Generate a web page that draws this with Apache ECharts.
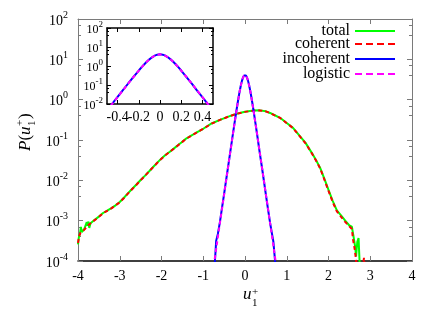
<!DOCTYPE html>
<html><head><meta charset="utf-8">
<script src="https://cdn.jsdelivr.net/npm/echarts@6/dist/echarts.min.js"></script>
<style>html,body{margin:0;padding:0;background:#fff}#c{width:436px;height:309px}</style>
</head><body><div id="c"></div><script>
// ---- data ----
const totalU = [-4.00,-3.98,-3.95,-3.93,-3.91,-3.88,-3.85,-3.82,-3.79,-3.77,-3.75,-3.73,-3.70,-3.66,-3.60,-3.50,-3.40,-3.30,-3.20,-3.10,-3.00,-2.90,-2.80,-2.70,-2.60,-2.50,-2.40,-2.30,-2.20,-2.10,-2.00,-1.90,-1.80,-1.70,-1.60,-1.50,-1.40,-1.30,-1.20,-1.10,-1.00,-0.80,-0.60,-0.40,-0.20,0.00,0.20,0.35,0.50,0.60,0.70,0.84,1.00,1.15,1.30,1.45,1.60,1.70,1.80,1.90,2.00,2.10,2.20,2.30,2.40,2.50,2.56,2.60,2.64,2.66,2.69,2.72,2.74,2.76];
const totalP = [2.6e-4,3.8e-4,5.0e-4,7.0e-4,5.2e-4,5.6e-4,6.2e-4,5.8e-4,9.2e-4,7.5e-4,9.5e-4,6.6e-4,8.6e-4,9.5e-4,1.05e-3,1.26e-3,1.55e-3,1.78e-3,2.04e-3,2.4e-3,2.9e-3,3.7e-3,4.8e-3,6.2e-3,7.9e-3,1.02e-2,1.29e-2,1.66e-2,2.14e-2,2.75e-2,3.5e-2,4.3e-2,5.1e-2,6.2e-2,7.5e-2,9.1e-2,0.11,0.126,0.145,0.166,0.19,0.257,0.316,0.38,0.447,0.50,0.537,0.543,0.513,0.468,0.417,0.355,0.263,0.20,0.13,0.085,0.048,0.032,0.0204,0.011,5.8e-3,3.1e-3,1.8e-3,1.35e-3,1.0e-3,7.6e-4,7.1e-4,4.0e-4,2.2e-4,1.3e-4,3.0e-4,3.7e-4,1.2e-4,5e-5];

const coherentU = [-4.00,-3.97,-3.94,-3.90,-3.86,-3.82,-3.78,-3.74,-3.70,-3.66,-3.60,-3.50,-3.40,-3.30,-3.20,-3.10,-3.00,-2.90,-2.80,-2.70,-2.60,-2.50,-2.40,-2.30,-2.20,-2.10,-2.00,-1.90,-1.80,-1.70,-1.60,-1.50,-1.40,-1.30,-1.20,-1.10,-1.00,-0.80,-0.60,-0.40,-0.20,0.00,0.20,0.35,0.50,0.60,0.70,0.84,1.00,1.15,1.30,1.45,1.60,1.70,1.80,1.90,2.00,2.10,2.20,2.30,2.40,2.50,2.56,2.59,2.63,2.66,2.68,2.80,2.85,2.88];
const coherentP = [2.8e-4,4.2e-4,5.0e-4,4.8e-4,5.8e-4,6.2e-4,7.2e-4,7.0e-4,8.6e-4,9.6e-4,1.03e-3,1.24e-3,1.53e-3,1.76e-3,2.02e-3,2.4e-3,2.85e-3,3.65e-3,4.75e-3,6.1e-3,7.8e-3,1.0e-2,1.28e-2,1.65e-2,2.12e-2,2.72e-2,3.45e-2,4.25e-2,5.1e-2,6.15e-2,7.45e-2,9.0e-2,0.109,0.125,0.144,0.165,0.189,0.255,0.315,0.378,0.445,0.498,0.535,0.541,0.511,0.466,0.415,0.353,0.261,0.198,0.128,0.083,0.047,0.031,0.0198,0.0105,5.5e-3,2.9e-3,1.7e-3,1.25e-3,9.3e-4,7.2e-4,6.2e-4,3.3e-4,1.9e-4,1.05e-4,6e-5,5e-5,1.2e-4,5e-5];

const incoherentU = [-0.75,-0.72,-0.69,-0.65,-0.60,-0.55,-0.50,-0.45,-0.40,-0.35,-0.30,-0.25,-0.20,-0.175,-0.15,-0.125,-0.10,-0.075,-0.05,-0.025,0.00,0.025,0.05,0.075,0.10,0.125,0.15,0.175,0.20,0.25,0.30,0.35,0.40,0.45,0.50,0.55,0.60,0.65,0.68,0.72,0.75];
const incoherentP = [3e-5,1.0e-4,3.2e-4,4.7e-4,9.3e-4,2.1e-3,4.6e-3,1.05e-2,2.35e-2,5.3e-2,0.12,0.266,0.578,0.84,1.2,1.67,2.24,2.88,3.5,3.96,4.12,3.96,3.5,2.88,2.24,1.67,1.2,0.84,0.578,0.262,0.117,5.1e-2,2.3e-2,1.02e-2,4.4e-3,1.95e-3,8.9e-4,4.5e-4,3.0e-4,1.0e-4,3e-5];

const logisticU = [-0.75,-0.70,-0.65,-0.60,-0.55,-0.50,-0.45,-0.40,-0.35,-0.30,-0.25,-0.20,-0.175,-0.15,-0.125,-0.10,-0.075,-0.05,-0.025,0.00,0.025,0.05,0.075,0.10,0.125,0.15,0.175,0.20,0.25,0.30,0.35,0.40,0.45,0.50,0.55,0.60,0.65,0.70,0.75];
const logisticP = [7.5e-5,1.7e-4,3.9e-4,8.8e-4,2.0e-3,4.5e-3,1.03e-2,2.32e-2,5.2e-2,0.118,0.264,0.574,0.834,1.19,1.66,2.23,2.87,3.48,3.94,4.10,3.94,3.48,2.87,2.23,1.66,1.19,0.834,0.574,0.264,0.118,5.2e-2,2.32e-2,1.03e-2,4.5e-3,2.0e-3,8.8e-4,3.9e-4,1.7e-4,7.5e-5];

const seriesNames = ['total','coherent','incoherent','logistic'];
const mainXTicks = {min:-4, max:4, interval:1};
const mainYRange = {min:1e-4, max:1e2};
const insetXRange = {min:-0.5, max:0.5};
const insetYRange = {min:1e-2, max:1e2};

// ---- chart ----
const FONT = '"Liberation Serif","Times New Roman",serif';
const pairs = (u,p) => u.map((x,i) => [x, p[i]]);
const expLabel = v => '{b|10}{s|' + Math.round(Math.log10(v)) + '}';
const GRAY = '#7a7a7a';

function xAx(grid, pos, range, opts) {
  return Object.assign({
    type:'value', gridIndex:grid, position:pos, min:range.min, max:range.max,
    splitLine:{show:false},
    axisLine:{show:true, onZero:false, lineStyle:{color:GRAY, width:1}},
    axisTick:{show:true, inside:true, length:5, lineStyle:{color:GRAY}},
    axisLabel:{show:false}
  }, opts || {});
}
function yAx(grid, pos, range, opts) {
  return Object.assign({
    type:'log', logBase:10, gridIndex:grid, position:pos, min:range.min, max:range.max, interval:1,
    splitLine:{show:false},
    axisLine:{show:true, onZero:false, lineStyle:{color:GRAY, width:1}},
    axisTick:{show:true, inside:true, length:5, lineStyle:{color:GRAY}},
    minorTick:{show:true, splitNumber:3, length:3, lineStyle:{color:GRAY}},
    axisLabel:{show:false}
  }, opts || {});
}
function leg(name, top, dash) {
  const l = {
    data:[name], right:40, top:top, orient:'vertical', itemWidth:40, itemHeight:10,
    padding:0, selectedMode:false, align:'right',
    itemStyle:{opacity:0, borderWidth:0},
    textStyle:{fontFamily:FONT, fontSize:16, color:'#000'}
  };
  if (dash) l.lineStyle = {type:dash};
  return l;
}
function line(name, u, p, color, dash, xi, yi) {
  return {
    type:'line', name:name, data:pairs(u,p), xAxisIndex:xi, yAxisIndex:yi,
    symbol:'none', showSymbol:false, animation:false,
    lineStyle:{color:color, width:2, type:dash || 'solid'},
    itemStyle:{color:color}
  };
}

const chart = echarts.init(document.getElementById('c'));
chart.setOption({
  animation:false,
  backgroundColor:'#fff',
  grid:[
    {left:78, right:24, top:19, bottom:48},
    {left:107, right:223, top:28, bottom:205, show:true, backgroundColor:'#fff', borderWidth:0}
  ],
  xAxis:[
    xAx(0,'bottom',mainXTicks,{interval:mainXTicks.interval,
      axisLine:{show:true,onZero:false,lineStyle:{color:'#000',width:1.5}},
      axisLabel:{show:true, margin:8, fontFamily:FONT, fontSize:14, color:'#000'}}),
    xAx(0,'top',mainXTicks,{interval:mainXTicks.interval}),
    xAx(1,'bottom',insetXRange,{splitNumber:5,
      axisLine:{show:true,onZero:false,lineStyle:{color:'#000',width:1.5}},
      axisTick:{show:true,inside:true,length:4,lineStyle:{color:'#000'}},
      axisLabel:{show:true, margin:6, fontFamily:FONT, fontSize:14, color:'#000', showMinLabel:false, showMaxLabel:false}}),
    xAx(1,'top',insetXRange,{splitNumber:5,
      axisLine:{show:true,onZero:false,lineStyle:{color:'#000',width:1.5}},
      axisTick:{show:true,inside:true,length:4,lineStyle:{color:'#000'}}})
  ],
  yAxis:[
    yAx(0,'left',mainYRange,{
      axisLabel:{show:true, margin:10, formatter:expLabel, rich:{
        b:{fontFamily:FONT, fontSize:14, color:'#000', lineHeight:18, verticalAlign:'bottom'},
        s:{fontFamily:FONT, fontSize:10, color:'#000', lineHeight:8, verticalAlign:'top'}}}}),
    yAx(0,'right',mainYRange),
    yAx(1,'left',insetYRange,{
      axisLine:{show:true,onZero:false,lineStyle:{color:'#000',width:1.5}},
      axisTick:{show:true,inside:true,length:4,lineStyle:{color:'#000'}},
      minorTick:{show:true,splitNumber:3,length:2,lineStyle:{color:'#000'}},
      axisLabel:{show:true, margin:4, formatter:expLabel, rich:{
        b:{fontFamily:FONT, fontSize:12, color:'#000', lineHeight:15, verticalAlign:'bottom'},
        s:{fontFamily:FONT, fontSize:9, color:'#000', lineHeight:7, verticalAlign:'top'}}}}),
    yAx(1,'right',insetYRange,{
      axisLine:{show:true,onZero:false,lineStyle:{color:'#000',width:1.5}},
      axisTick:{show:true,inside:true,length:4,lineStyle:{color:'#000'}},
      minorTick:{show:true,splitNumber:3,length:2,lineStyle:{color:'#000'}}})
  ],
  legend:[
    leg(seriesNames[0], 23),
    leg(seriesNames[1], 36, [7,4]),
    leg(seriesNames[2], 51),
    leg(seriesNames[3], 66, [7,4])
  ],
  series:[
    line(seriesNames[0], totalU, totalP, '#00ff00', null, 0, 0),
    line(seriesNames[1], coherentU, coherentP, '#ff0000', [4,3], 0, 0),
    line(seriesNames[2], incoherentU, incoherentP, '#0000ff', null, 0, 0),
    line(seriesNames[3], logisticU, logisticP, '#ff00ff', [4,3], 0, 0),
    line('inset-incoherent', incoherentU, incoherentP, '#0000ff', null, 2, 2),
    line('inset-logistic', logisticU, logisticP, '#ff00ff', [4,3], 2, 2)
  ],
  graphic:[
    {type:'group', x:27, y:132, rotation:Math.PI/2, children:[
      {type:'text', x:-19, y:-1, style:{text:'{i|P}{r|(}{i|u}', verticalAlign:'middle', align:'left',
        rich:{i:{fontFamily:FONT, fontStyle:'italic', fontSize:17, fill:'#000'}, r:{fontFamily:FONT, fontSize:17, fill:'#000'}}}},
      {type:'text', x:6, y:-6.5, style:{text:'+', font:'11px ' + FONT, fill:'#000', verticalAlign:'middle', align:'left'}},
      {type:'text', x:6, y:5.5, style:{text:'1', font:'11px ' + FONT, fill:'#000', verticalAlign:'middle', align:'left'}},
      {type:'text', x:13, y:-1, style:{text:')', font:'17px ' + FONT, fill:'#000', verticalAlign:'middle', align:'left'}}
    ]},
    {type:'group', x:243, y:295, children:[
      {type:'text', x:0, y:0, style:{text:'u', font:'italic 17px ' + FONT, fill:'#000', verticalAlign:'middle', align:'left'}},
      {type:'text', x:9, y:-3, style:{text:'+', font:'11px ' + FONT, fill:'#000', verticalAlign:'middle', align:'left'}},
      {type:'text', x:9, y:8, style:{text:'1', font:'11px ' + FONT, fill:'#000', verticalAlign:'middle', align:'left'}}
    ]}
  ]
});
</script></body></html>
